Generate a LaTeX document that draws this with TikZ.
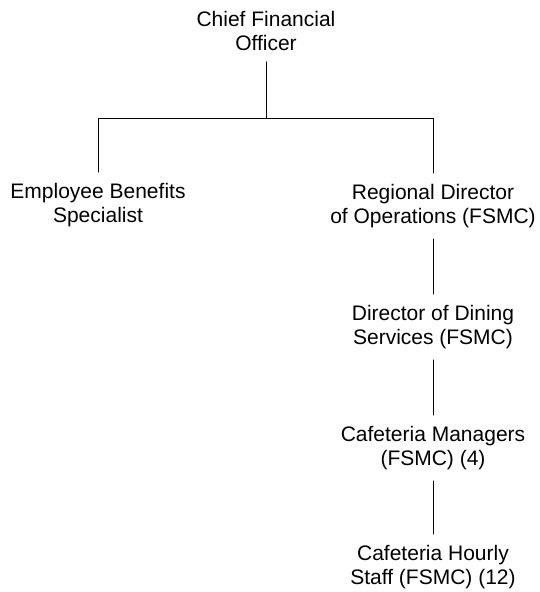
\documentclass[tikz,border=0pt]{standalone}
\usepackage{fontspec}
\setmainfont{Liberation Sans}
\begin{document}
\begin{tikzpicture}[x=1pt, y=-1pt, line cap=round, line width=0.8pt]
\tikzset{post/.style={align=center, font=\fontsize{21}{23.5}\selectfont, inner xsep=0pt, inner ysep=11pt}}
\useasboundingbox (0,0) rectangle (540,592);
\def\xr{433}
\node[post] (cfo) at (266,31) {Chief Financial\\Officer};
\node[post] (ebs) at (98,205) {Employee Benefits\\Specialist};
\node[post] (rdo) at (\xr,206) {Regional Director\\of Operations (FSMC)};
\node[post] (dds) at (\xr,327) {Director of Dining\\Services (FSMC)};
\node[post] (cm) at (\xr,448) {Cafeteria Managers\\(FSMC) (4)};
\node[post] (chs) at (\xr,567) {Cafeteria Hourly\\Staff (FSMC) (12)};
\coordinate (bar) at (266,118);
\draw (cfo) -- (bar);
\draw (bar) -| (ebs);
\draw (bar) -| (rdo);
\draw (rdo) -- (dds);
\draw (dds) -- (cm);
\draw (cm) -- (chs);
\end{tikzpicture}
\end{document}
